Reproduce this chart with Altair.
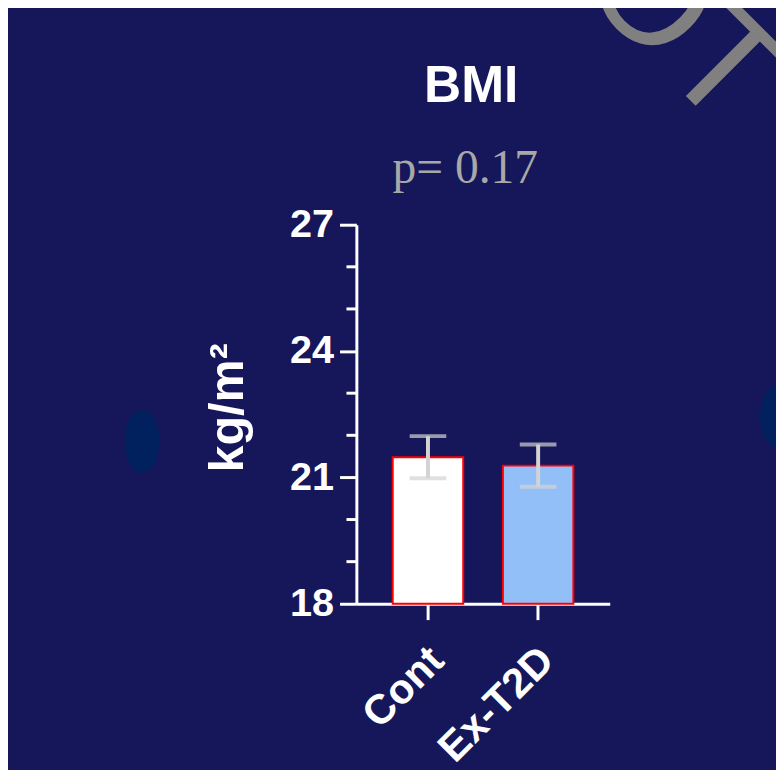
import altair as alt
import pandas as pd

# ---- data ----
groups = ["Cont", "Ex-T2D"]
means = [21.48, 21.28]
sems = [0.50, 0.50]
fills = ["#ffffff", "#93bff8"]
major_ticks = [18, 21, 24, 27]
minor_ticks = [19, 20, 22, 23, 25, 26]
title_text = "BMI"
p_text = "p= 0.17"
y_title = "kg/m²"

BG = "#16165a"
W, H = 256, 383
FONT = "Liberation Sans"

df = pd.DataFrame({
    "group": groups,
    "mean": means,
    "lo": [m - s for m, s in zip(means, sems)],
    "hi": [m + s for m, s in zip(means, sems)],
    "base": [major_ticks[0]] * len(groups),
})

yscale = alt.Scale(domain=[major_ticks[0], major_ticks[-1]], zero=False, nice=False)
xscale = alt.Scale(domain=groups, paddingInner=0.36, paddingOuter=0.33)

xaxis = alt.Axis(
    title=None, labelAngle=-45, labelFont=FONT, labelFontWeight="bold",
    labelFontSize=42, labelColor="white", tickColor="white", tickWidth=3,
    tickSize=16, domainColor="white", domainWidth=3, labelPadding=20,
    labelOffset=-5,
)
yaxis = alt.Axis(
    title=None, values=major_ticks, labelFont=FONT, labelFontWeight="bold",
    labelFontSize=40, labelColor="white", tickColor="white", tickWidth=3,
    tickSize=17, domainColor="white", domainWidth=3, labelPadding=6, grid=False,
)

base = alt.Chart(df)

bars = base.mark_bar(stroke="red", strokeWidth=2).encode(
    x=alt.X("group:N", scale=xscale, axis=xaxis, sort=groups),
    y=alt.Y("mean:Q", scale=yscale, axis=yaxis),
    y2="base:Q",
    fill=alt.Fill("group:N", scale=alt.Scale(domain=groups, range=fills), legend=None),
)

stems = base.mark_rule(color="#d3d3d3", strokeWidth=4).encode(
    x=alt.X("group:N", sort=groups), y="lo:Q", y2="hi:Q"
)
cap_lo = base.mark_tick(color="#d3d3d3", thickness=4, size=37).encode(
    x=alt.X("group:N", sort=groups), y="lo:Q"
)
cap_hi = base.mark_tick(color="#d3d3d3", thickness=4, size=37).encode(
    x=alt.X("group:N", sort=groups), y="hi:Q"
)

minor = alt.Chart(pd.DataFrame({"v": minor_ticks})).mark_rule(
    color="white", strokeWidth=3
).encode(y="v:Q", x=alt.value(-10), x2=alt.value(0))

def label(txt, x, y, **kw):
    return alt.Chart(pd.DataFrame({"t": [txt]})).mark_text(**kw).encode(
        x=alt.value(x), y=alt.value(y), text="t:N"
    )

title = label(title_text, 116, -124, font=FONT, fontWeight="bold", fontSize=52,
              color="white", align="center", baseline="alphabetic")
ptxt = label(p_text, 110, -42, font="Liberation Serif", fontSize=48,
             color="#a8a8a8", align="center", baseline="alphabetic")
ytitle = label(y_title, -130, 185, font=FONT, fontWeight="bold", fontSize=49,
               color="white", align="center", baseline="middle", angle=270)
watermark = label("OT", 223, -240, font=FONT, fontSize=150, color="#808080",
                  align="left", baseline="alphabetic", angle=45)

ell_path = ("M 0 -1 C 0.307 -1 0.556 -0.552 0.556 0 C 0.556 0.552 0.307 1 0 1 "
            "C -0.307 1 -0.556 0.552 -0.556 0 C -0.556 -0.552 -0.307 -1 0 -1 Z")

def ellipse(x, y):
    return alt.Chart(pd.DataFrame({"a": [0]})).mark_point(
        shape=ell_path, filled=True, fill="#01215e", opacity=1, strokeWidth=0, size=3969
    ).encode(x=alt.value(x), y=alt.value(y))

chart = alt.layer(
    ellipse(-216.5, 219), ellipse(425.5, 194), watermark,
    bars, stems, cap_lo, cap_hi, minor, title, ptxt, ytitle,
).properties(
    width=W, height=H,
    autosize=alt.AutoSizeParams(type="none"),
    padding={"left": 352, "top": 215, "right": 168, "bottom": 164},
    background=BG,
).configure_view(stroke=None)

chart.save("out.html", embed_options={"renderer": "svg", "actions": False})
